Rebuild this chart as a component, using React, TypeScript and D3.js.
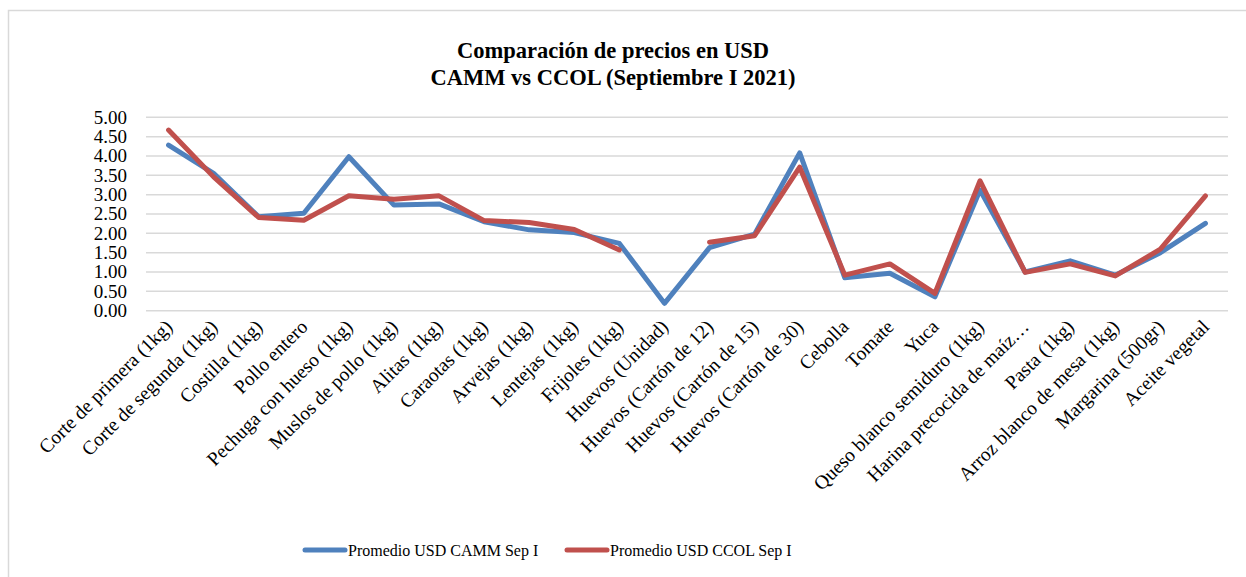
import React, { useEffect, useRef } from "react";
import * as d3 from "d3";

const categories: string[] = [
  "Corte de primera (1kg)",
  "Corte de segunda (1kg)",
  "Costilla (1kg)",
  "Pollo entero",
  "Pechuga con hueso (1kg)",
  "Muslos de pollo (1kg)",
  "Alitas (1kg)",
  "Caraotas (1kg)",
  "Arvejas (1kg)",
  "Lentejas (1kg)",
  "Frijoles (1kg)",
  "Huevos (Unidad)",
  "Huevos (Cartón de 12)",
  "Huevos (Cartón de 15)",
  "Huevos (Cartón de 30)",
  "Cebolla",
  "Tomate",
  "Yuca",
  "Queso blanco semiduro (1kg)",
  "Harina precocida de maíz…",
  "Pasta (1kg)",
  "Arroz blanco de mesa (1kg)",
  "Margarina (500gr)",
  "Aceite vegetal",
];

const camm: (number | null)[] = [
  4.28, 3.55, 2.43, 2.52, 3.98, 2.73, 2.76, 2.3, 2.09, 2.02, 1.74, 0.19,
  1.63, 1.98, 4.08, 0.85, 0.97, 0.36, 3.12, 1.0, 1.29, 0.92, 1.5, 2.26,
];

const ccol: (number | null)[] = [
  4.67, 3.46, 2.41, 2.34, 2.97, 2.88, 2.97, 2.33, 2.28, 2.1, 1.57, null,
  1.77, 1.94, 3.71, 0.92, 1.21, 0.45, 3.36, 0.99, 1.21, 0.9, 1.59, 2.97,
];

const yTicks: number[] = [0, 0.5, 1, 1.5, 2, 2.5, 3, 3.5, 4, 4.5, 5];

const seriesNames: string[] = ["Promedio USD CAMM Sep I", "Promedio USD CCOL Sep I"];
const seriesColors: string[] = ["#4F81BD", "#C0504D"];
const titleLines: string[] = ["Comparación de precios en USD", "CAMM vs CCOL (Septiembre I 2021)"];

const W = 1246;
const H = 577;
const FONT = "'Liberation Serif', 'Times New Roman', serif";

export default function App() {
  const ref = useRef<SVGSVGElement | null>(null);

  useEffect(() => {
    const svg = d3.select(ref.current);
    svg.selectAll("*").remove();

    const left = 146;
    const right = 1228;
    const top = 117.3;
    const bottom = 310.7;

    const x = d3.scaleBand<string>().domain(categories).range([left, right]);
    const y = d3.scaleLinear().domain([0, 5]).range([bottom, top]);
    const cx = (c: string) => (x(c) as number) + x.bandwidth() / 2;

    svg
      .append("rect")
      .attr("x", 8.5)
      .attr("y", 10.5)
      .attr("width", 1300)
      .attr("height", 700)
      .attr("fill", "#fff")
      .attr("stroke", "#D9D9D9")
      .attr("stroke-width", 1.5);

    const t = svg
      .append("text")
      .attr("font-family", FONT)
      .attr("font-weight", "bold")
      .attr("font-size", 22.5)
      .attr("fill", "#000")
      .attr("text-anchor", "middle");
    titleLines.forEach((line, i) => {
      t.append("tspan").attr("x", 613).attr("y", 58 + i * 27).text(line);
    });

    // gridlines
    svg
      .append("g")
      .selectAll("line")
      .data(yTicks)
      .join("line")
      .attr("x1", left)
      .attr("x2", right)
      .attr("y1", (d) => y(d))
      .attr("y2", (d) => y(d))
      .attr("stroke", "#D9D9D9")
      .attr("stroke-width", 1.5);

    // y labels
    svg
      .append("g")
      .selectAll("text")
      .data(yTicks)
      .join("text")
      .attr("x", 127)
      .attr("y", (d) => y(d))
      .attr("dy", "0.33em")
      .attr("text-anchor", "end")
      .attr("font-family", FONT)
      .attr("font-size", 19)
      .attr("fill", "#000")
      .text((d) => d3.format(".2f")(d));

    // x labels
    svg
      .append("g")
      .selectAll("text")
      .data(categories)
      .join("text")
      .attr("transform", (d) => `translate(${cx(d) + 5},${328}) rotate(-45)`)
      .attr("text-anchor", "end")
      .attr("font-family", FONT)
      .attr("font-size", 19.5)
      .attr("fill", "#000")
      .text((d) => d);

    const line = d3
      .line<number | null>()
      .defined((d) => d !== null)
      .x((_, i) => cx(categories[i]))
      .y((d) => y(d as number));

    [camm, ccol].forEach((s, i) => {
      svg
        .append("path")
        .datum(s)
        .attr("d", line)
        .attr("fill", "none")
        .attr("stroke", seriesColors[i])
        .attr("stroke-width", 5)
        .attr("stroke-linejoin", "round")
        .attr("stroke-linecap", "round");
    });

    // legend
    const legendX = [305, 567];
    seriesNames.forEach((name, i) => {
      const g = svg.append("g");
      g.append("line")
        .attr("x1", legendX[i])
        .attr("x2", legendX[i] + 40)
        .attr("y1", 550)
        .attr("y2", 550)
        .attr("stroke", seriesColors[i])
        .attr("stroke-width", 5)
        .attr("stroke-linecap", "round");
      g.append("text")
        .attr("x", legendX[i] + 43)
        .attr("y", 550)
        .attr("dy", "0.35em")
        .attr("font-family", FONT)
        .attr("font-size", 16)
        .attr("fill", "#000")
        .text(name);
    });
  }, []);

  return (
    <div style={{ position: "absolute", left: 0, top: 0 }}>
      <svg ref={ref} width={W} height={H} style={{ display: "block" }} />
    </div>
  );
}
